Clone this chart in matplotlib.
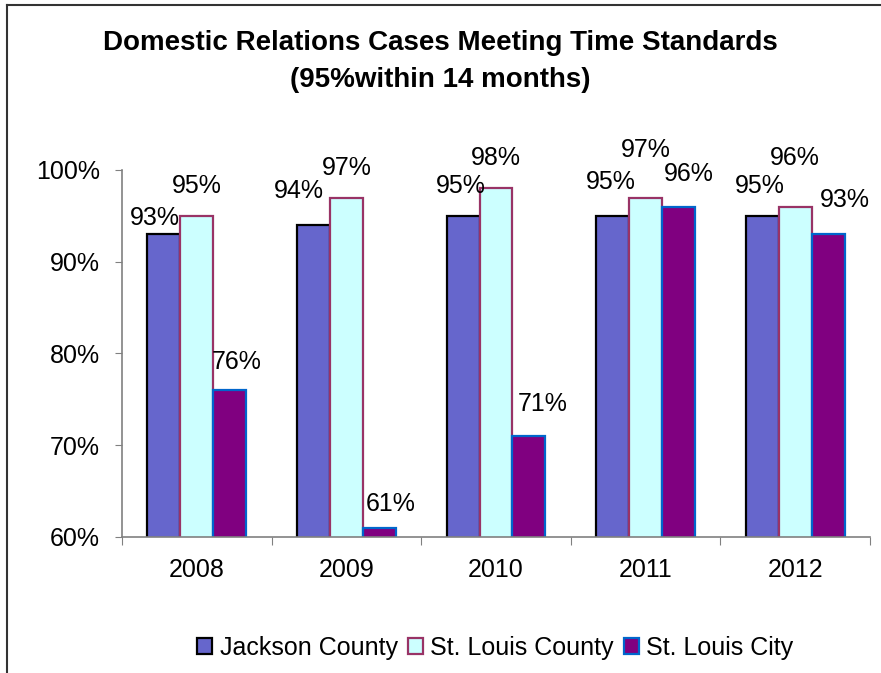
import numpy as np
import matplotlib.pyplot as plt
from matplotlib.lines import Line2D

plt.rcParams['font.family'] = ['Liberation Sans', 'DejaVu Sans']

years = ['2008', '2009', '2010', '2011', '2012']
jackson = [93, 94, 95, 95, 95]
stl_county = [95, 97, 98, 97, 96]
stl_city = [76, 61, 71, 96, 93]

# hand-placed label nudges (dx, dy in pixels) for each series
jackson_nudge = [(-9, 9), (-15, 27), (-2, 23), (-2, 27), (-2, 23)]
county_nudge = [(0, 23), (0, 23), (0, 23), (0, 41), (0, 42)]
city_nudge = [(7, 21), (11, 17), (14, 25), (10, 26), (17, 27)]

series = [
    ('Jackson County', jackson, '#6666CC', '#000000', jackson_nudge),
    ('St. Louis County', stl_county, '#CCFFFF', '#993366', county_nudge),
    ('St. Louis City', stl_city, '#800080', '#0066CC', city_nudge),
]

fig = plt.figure(figsize=(8.81, 6.73), dpi=100)
ax = fig.add_axes([0.1385, 0.2021, 0.849, 0.5453])

x = np.arange(len(years))
w = 0.22
for i, (name, vals, face, edge, nudge) in enumerate(series):
    pos = x + (i - 1) * w
    ax.bar(pos, vals, width=w, color=face, edgecolor=edge, linewidth=1.6,
           label=name, zorder=2)
    for px, v, (dx, dy) in zip(pos, vals, nudge):
        ax.annotate(f'{v}%', (px, v), xytext=(dx, dy), textcoords='offset pixels',
                    ha='center', va='baseline', fontsize=18)

ax.set_ylim(60, 100)
ax.set_xlim(-0.5, len(years) - 0.5)
ax.set_yticks([60, 70, 80, 90, 100])
ax.set_yticklabels([f'{t}%' for t in [60, 70, 80, 90, 100]], fontsize=18)

# boundary ticks between years, labels at group centres
ax.set_xticks(np.arange(len(years) + 1) - 0.5)
ax.set_xticklabels([])
ax.set_xticks(x, minor=True)
ax.set_xticklabels(years, minor=True, fontsize=18)
ax.tick_params(axis='x', which='major', length=6, color='#808080', direction='out')
ax.tick_params(axis='x', which='minor', length=0, pad=15)
ax.tick_params(axis='y', length=5, color='#808080', pad=11)

for s in ['top', 'right']:
    ax.spines[s].set_visible(False)
for s in ['left', 'bottom']:
    ax.spines[s].set_color('#808080')
    ax.spines[s].set_linewidth(1.2)

fig.text(0.5, 0.936, 'Domestic Relations Cases Meeting Time Standards',
         ha='center', va='center', fontsize=20, fontweight='bold')
fig.text(0.5, 0.881, '(95%within 14 months)',
         ha='center', va='center', fontsize=20, fontweight='bold')

fig.legend(loc='center', bbox_to_anchor=(0.562, 0.037), ncol=3, frameon=False,
           fontsize=18, handlelength=0.6, handleheight=0.6, handletextpad=0.3,
           columnspacing=0.4)

# outer chart frame
fig.add_artist(Line2D([7 / 881, 7 / 881], [0, 1 - 5 / 673], color='#333333',
                      linewidth=1.5, transform=fig.transFigure))
fig.add_artist(Line2D([7 / 881, 1], [1 - 5 / 673, 1 - 5 / 673], color='#333333',
                      linewidth=1.5, transform=fig.transFigure))

fig.savefig('out.png', dpi=100)
